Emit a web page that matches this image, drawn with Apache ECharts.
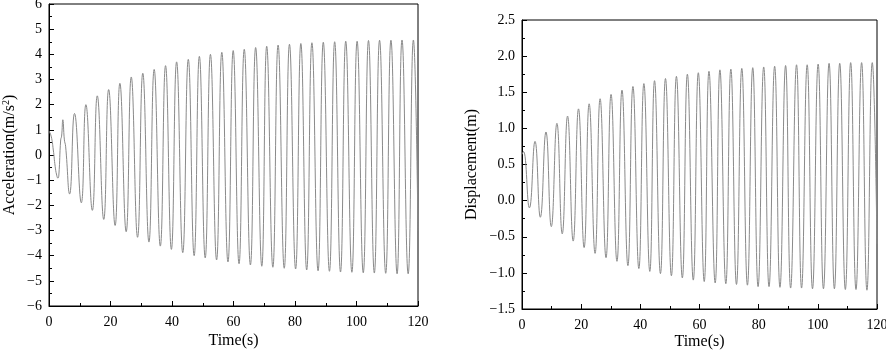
<!DOCTYPE html>
<html>
<head>
<meta charset="utf-8">
<script src="https://cdn.jsdelivr.net/npm/echarts@6/dist/echarts.min.js"></script>
<style>
html, body { margin: 0; padding: 0; background: #fff; }
#chart { width: 886px; height: 350px; }
</style>
</head>
<body>
<div id="chart"></div>
<script>
// acceleration record, peaks and troughs (s, m/s2)
var accTime = [0, 0.7, 1.4, 2.0, 2.5, 2.9, 3.2, 3.8, 4.1, 4.5, 5.0, 5.4, 6.7,
  8.3, 10.5, 12.0, 14.1, 15.7, 17.8, 19.4, 21.5, 23.05, 25.1, 26.75, 28.8, 30.5, 32.5,
  34.2, 36.2, 37.9, 39.8, 41.5, 43.5, 45.3, 47.2, 48.9, 50.8, 52.5, 54.5, 56.2, 58.2,
  59.9, 61.8, 63.5, 65.5, 67.2, 69.2, 70.8, 72.8, 74.5, 76.5, 78.2, 80.2, 81.9, 83.8,
  85.5, 87.5, 89.2, 91.2, 92.9, 94.8, 96.5, 98.5, 100.2, 102.2, 103.9, 105.8, 107.5,
  109.5, 111.2, 113.2, 114.8, 116.8, 118.5, 120];
var accValue = [0.95, 0.75, 0.2, -0.45, -0.8, -0.92, -0.8, 0.6, 0.75, 1.4, 0.6, 0.35, -1.55,
  1.65, -1.9, 2.0, -2.2, 2.35, -2.56, 2.6, -2.8, 2.85, -3.05, 3.1, -3.27, 3.25, -3.46,
  3.4, -3.62, 3.55, -3.75, 3.7, -3.88, 3.8, -4.0, 3.92, -4.09, 4.0, -4.17, 4.08, -4.25,
  4.15, -4.32, 4.2, -4.37, 4.27, -4.42, 4.32, -4.46, 4.37, -4.5, 4.4, -4.53, 4.43, -4.57,
  4.46, -4.6, 4.48, -4.62, 4.5, -4.65, 4.52, -4.66, 4.52, -4.68, 4.55, -4.69, 4.56,
  -4.7, 4.56, -4.72, 4.57, -4.72, 4.57, -3.0];

// displacement record, right panel (s, m)
var dispTime = [0, 0.5, 2.5, 4.4, 6.2, 8.1, 9.9, 11.8, 13.6, 15.4, 17.3, 19.1, 21.0,
  22.7, 24.7, 26.4, 28.4, 30.1, 32.1, 33.8, 35.8, 37.5, 39.5, 41.2, 43.2, 44.8, 46.8,
  48.5, 50.5, 52.2, 54.2, 55.9, 57.9, 59.6, 61.6, 63.2, 65.3, 66.9, 68.9, 70.6, 72.5,
  74.3, 76.2, 78.0, 79.8, 81.7, 83.5, 85.4, 87.2, 89.1, 90.8, 92.8, 94.5, 96.4, 98.2,
  100.1, 101.9, 103.8, 105.6, 107.4, 109.3, 111.1, 112.9, 114.8, 116.6, 118.4, 120];
var dispValue = [0.64, 0.68, -0.1, 0.82, -0.23, 0.95, -0.36, 1.07, -0.46, 1.17, -0.56, 1.27, -0.65,
  1.34, -0.73, 1.41, -0.79, 1.47, -0.84, 1.53, -0.9, 1.58, -0.94, 1.62, -0.98, 1.66, -1.01,
  1.69, -1.04, 1.72, -1.07, 1.75, -1.1, 1.77, -1.12, 1.79, -1.14, 1.81, -1.15, 1.82, -1.16,
  1.83, -1.17, 1.84, -1.19, 1.85, -1.19, 1.86, -1.2, 1.87, -1.21, 1.88, -1.21, 1.88, -1.22,
  1.89, -1.22, 1.9, -1.22, 1.9, -1.23, 1.91, -1.23, 1.91, -1.24, 1.91, -0.6];

var serif = '"Liberation Serif", "DejaVu Serif", serif';

function pairs(xs, ys) {
  var out = [];
  for (var i = 0; i < xs.length; i++) out.push([xs[i], ys[i]]);
  return out;
}

function minus(v, digits) {
  var s = digits ? Math.abs(v).toFixed(digits) : String(Math.abs(v));
  return (v < 0 ? '\u2212' : '') + s;
}

function xAxisFor(idx) {
  return {
    type: 'value', gridIndex: idx, min: 0, max: 120, interval: 20,
    name: 'Time(s)', nameLocation: 'middle', nameGap: idx ? 25 : 27, nameMoveOverlap: false,
    nameTextStyle: { fontFamily: serif, fontSize: 16, color: '#000' },
    axisLine: { onZero: false, lineStyle: { color: '#000', width: 1 } },
    axisTick: { inside: true, length: 5, lineStyle: { color: '#000' } },
    minorTick: { show: true, splitNumber: 2, length: 3, lineStyle: { color: '#000' } },
    axisLabel: { fontFamily: serif, fontSize: 14, color: '#000', margin: 9 },
    splitLine: { show: false }
  };
}

function yAxisFor(idx, min, max, interval, digits, name, gap) {
  return {
    type: 'value', gridIndex: idx, min: min, max: max, interval: interval,
    name: name, nameLocation: 'middle', nameGap: gap, nameRotate: 90, nameMoveOverlap: false,
    nameTextStyle: {
      fontFamily: serif, fontSize: 16, color: '#000',
      rich: { sup: { fontFamily: serif, fontSize: 10, color: '#000', verticalAlign: 'top', padding: [0, 0, 8, 0] } }
    },
    axisLine: { onZero: false, lineStyle: { color: '#000', width: 1 } },
    axisTick: { inside: true, length: 5, lineStyle: { color: '#000' } },
    minorTick: { show: true, splitNumber: 2, length: 3, lineStyle: { color: '#000' } },
    axisLabel: {
      fontFamily: serif, fontSize: 14, color: '#000', margin: 7,
      formatter: function (v) { return minus(v, digits); }
    },
    splitLine: { show: false }
  };
}

var myChart = echarts.init(document.getElementById('chart'), null, { renderer: 'canvas' });

var option = {
  backgroundColor: '#fff',
  animation: false,
  grid: [
    { left: 49, right: 468, top: 4, bottom: 44, show: true, borderColor: '#000', borderWidth: 1,
      containLabel: false, outerBoundsMode: 'none' },
    { left: 522, right: 9, top: 20, bottom: 41, show: true, borderColor: '#000', borderWidth: 1,
      containLabel: false, outerBoundsMode: 'none' }
  ],
  xAxis: [xAxisFor(0), xAxisFor(1)],
  yAxis: [
    yAxisFor(0, -6, 6, 1, 0, 'Acceleration(m/s{sup|2})', 30),
    yAxisFor(1, -1.5, 2.5, 0.5, 1, 'Displacement(m)', 42)
  ],
  series: [
    {
      type: 'line', xAxisIndex: 0, yAxisIndex: 0, data: pairs(accTime, accValue),
      smooth: 0.5, showSymbol: false, lineStyle: { color: '#8a8a8a', width: 1 }
    },
    {
      type: 'line', xAxisIndex: 1, yAxisIndex: 1, data: pairs(dispTime, dispValue),
      smooth: 0.5, showSymbol: false, lineStyle: { color: '#8a8a8a', width: 1 }
    }
  ]
};

myChart.setOption(option);
</script>
</body>
</html>
